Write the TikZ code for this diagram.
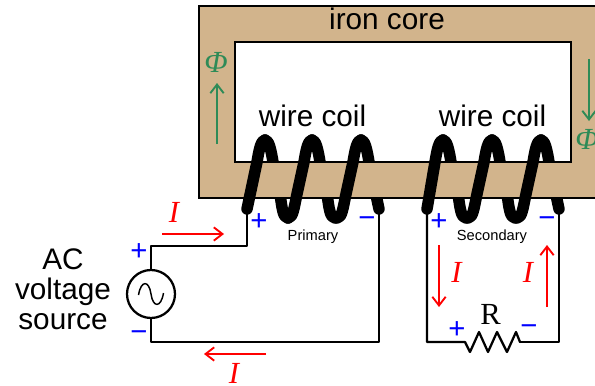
\documentclass[tikz,border=0pt]{standalone}
\usepackage{fontspec}
\setmainfont{Liberation Sans}
\newfontfamily\timesfont{Liberation Serif}
\usetikzlibrary{arrows.meta}
\definecolor{corecolor}{RGB}{210,180,140}
\definecolor{fluxcolor}{RGB}{46,139,87}
\tikzset{
	wire/.style={line width=1.7pt, line cap=round, line join=round},
	coilwire/.style={line width=8.6pt, line cap=round, line join=round},
	current/.style={red, line width=1.4pt, -{Straight Barb[length=6.5pt,width=10pt]}},
	flux/.style={fluxcolor, line width=1.4pt, -{Straight Barb[length=6.5pt,width=10pt]}},
	label/.style={inner sep=0pt, anchor=base, font=\fontsize{22.3}{22.5}\selectfont},
	small/.style={inner sep=0pt, anchor=base, font=\fontsize{11}{12}\selectfont},
	pol/.style={inner sep=0pt, blue, font=\fontsize{22}{22}\selectfont},
	symb/.style={inner sep=0pt, font=\fontsize{23}{22}\selectfont\timesfont\itshape},
}
\def\backhalf(#1){\draw[coilwire,shift={(#1,0)}] (0,140) .. controls (4,140) and (6,150) .. (8,162) -- (15,194) .. controls (17,208) and (18,218) .. (23,218);}
\def\fronthalf(#1){\draw[coilwire,shift={(#1,0)}] (-24,218) .. controls (-19,218) and (-18,208) .. (-15,194) -- (-8,162) .. controls (-6,150) and (-4,140) .. (0,140);}

\begin{document}
\begin{tikzpicture}[x=0.75pt, y=-0.75pt]
		%%%%% START %%%%%
		\useasboundingbox (0,0) rectangle (595,385);
		\clip (0,0) rectangle (595,385);
		
		\coordinate (pristart) at (247,209);
		\coordinate (priend) at (379,209);
		\coordinate (secstart) at (427,209);
		\coordinate (secend) at (559,209);
		\coordinate (pricorner) at (151,246);
		\coordinate (srcbottom) at (151,342);
		\coordinate (rleft) at (465,342);
		\coordinate (rright) at (520,342);
		
		% coil parts behind the core
		\backhalf(265)
		\backhalf(312)
		\draw[coilwire] (361,140) .. controls (365,140) and (367,150) .. (369,162) -- (priend);
		\backhalf(443)
		\backhalf(492)
		\draw[coilwire] (541,140) .. controls (545,140) and (547,150) .. (549,162) -- (secend);
		
		% core
		\draw[fill=corecolor, line width=1.7pt, even odd rule] (199,6) rectangle (610,198) (235,42) rectangle (571,162);
		
		% coil parts in front of the core
		\draw[coilwire] (pristart) -- (257,162) .. controls (259,150) and (261,140) .. (265,140);
		\fronthalf(312)
		\fronthalf(361)
		\draw[coilwire] (secstart) -- (435,162) .. controls (437,150) and (439,140) .. (443,140);
		\fronthalf(492)
		\fronthalf(541)
		
		% circuit
		\node[circle, draw, line width=1.7pt, minimum size=36pt, inner sep=0pt] (src) at (151,294) {};
		\draw[wire] (pristart) |- (pricorner) -- (src);
		\draw[wire] (priend) |- (srcbottom) -- (src);
		\draw[wire] (secstart) |- (rleft) -- (470,352) -- (479,332) -- (488,352) -- (497,332) -- (507,352) -- (516,332) -- (rright);
		\draw[wire] (secend) |- (rright);
		\draw[line width=1.1pt] (138.5,295) .. controls (141,280) and (149,280) .. (151,294) .. controls (153,308) and (161,308) .. (163.5,293);
		
		% arrows
		\coordinate (ia1) at (162,234);
		\coordinate (ia2) at (224,234);
		\coordinate (ib1) at (266,354);
		\coordinate (ib2) at (204,354);
		\coordinate (ic1) at (439,245);
		\coordinate (ic2) at (439,307);
		\coordinate (id1) at (547,307);
		\coordinate (id2) at (547,245);
		\coordinate (fa1) at (217,144);
		\coordinate (fa2) at (217,83);
		\coordinate (fb1) at (589,59);
		\coordinate (fb2) at (589,121);
		\draw[current] (ia1) -- (ia2);
		\draw[current] (ib1) -- (ib2);
		\draw[current] (ic1) -- (ic2);
		\draw[current] (id1) -- (id2);
		\draw[flux] (fa1) -- (fa2);
		\draw[flux] (fb1) -- (fb2);
		
		% labels
		\node[label] (corelabel) at (387,29.5) {iron core};
		\node[label] (coillabela) at (312.5,126) {wire coil};
		\node[label] (coillabelb) at (492.5,126) {wire coil};
		\node[label, align=center] (srclabel) at (63,329) {AC\\voltage\\source};
		\node[small] (prilabel) at (313,240) {Primary};
		\node[small] (seclabel) at (492,240) {Secondary};
		\node[symb, fluxcolor] (phia) at (216,62) {Φ};
		\node[symb, fluxcolor] (phib) at (587,139) {Φ};
		\node[symb, red] (ilabela) at (174,212) {I};
		\node[symb, red] (ilabelb) at (234,373) {I};
		\node[symb, red] (ilabelc) at (456.5,272) {I};
		\node[symb, red] (ilabeld) at (528,272) {I};
		\node[symb, font=\fontsize{23}{22}\selectfont\timesfont] (rlabel) at (490.5,314) {R};
		
		\node[pol] (pa) at (259,222.5) {+};
		\node[pol] (ma) at (367,222) {−};
		\node[pol] (pb) at (439,222.5) {+};
		\node[pol] (mb) at (547,222) {−};
		\node[pol] (pc) at (139,252.5) {+};
		\node[pol] (mc) at (139,336) {−};
		\node[pol] (pd) at (457,330.5) {+};
		\node[pol] (md) at (529,330) {−};
		%%%%% END %%%%%
	\end{tikzpicture}
\end{document}
